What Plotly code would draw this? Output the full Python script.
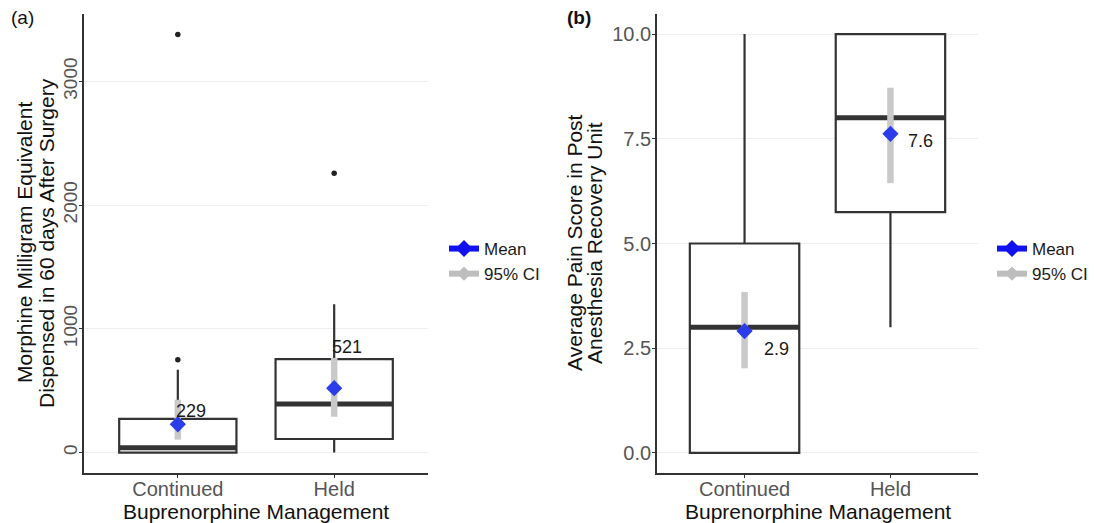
import plotly.graph_objects as go

# ---------------- data ----------------
categories = ["Continued", "Held"]
cat_pos = [1, 2]

# Panel (a): Morphine milligram equivalent
mme_q1 = [0, 110]
mme_median = [40, 393]
mme_q3 = [272, 755]
mme_lower = [0, 0]
mme_upper = [669, 1199]
mme_outliers = [[750, 3380], [2258]]
mme_mean = [229, 521]
mme_mean_labels = ["229", "521"]
mme_ci_low = [105, 290]
mme_ci_high = [427, 765]
mme_ticks = [0, 1000, 2000, 3000]

# Panel (b): Average pain score in PACU
pain_q1 = [0, 5.75]
pain_median = [3.0, 8.0]
pain_q3 = [5.0, 10.0]
pain_lower = [0, 3.0]
pain_upper = [10.0, 10.0]
pain_mean = [2.91, 7.62]
pain_mean_labels = ["2.9", "7.6"]
pain_ci_low = [2.02, 6.44]
pain_ci_high = [3.84, 8.72]
pain_ticks = [0, 2.5, 5.0, 7.5, 10.0]
pain_ticktext = ["0.0", "2.5", "5.0", "7.5", "10.0"]

# ---------------- style ----------------
FONT = "Liberation Sans, Arial, Helvetica, sans-serif"
BOX_LINE = "#333333"
CI_COLOR = "#c9c9c9"
MEAN_COLOR = "#2b3de8"
BOX_W = 0.75
# page offset (body margin) and figure size
OX, OY = 8, 8
W, H = 1087, 515


def px(x):
    return (x - OX) / W


def py(y):
    return 1 - (y - OY) / H


# label offsets (pixels) relative to mean point
mme_label_shift = [(-4, 13), (-4, 41)]
pain_label_shift = [(17, -18), (16, -7)]

fig = go.Figure()


def add_panel(xa, ya, q1, med, q3, lo, hi, outliers, mean, ci_lo, ci_hi,
              labels, shifts, legend_name):
    for i, p in enumerate(cat_pos):
        fig.add_trace(go.Box(
            x=[p], q1=[q1[i]], median=[med[i]], q3=[q3[i]],
            lowerfence=[lo[i]], upperfence=[hi[i]],
            width=BOX_W, whiskerwidth=0, fillcolor="white",
            line=dict(color=BOX_LINE, width=2.2), boxpoints=False,
            xaxis=xa, yaxis=ya, showlegend=False, hoverinfo="skip"))
        # thick median line
        fig.add_trace(go.Scatter(
            x=[p - BOX_W / 2, p + BOX_W / 2], y=[med[i], med[i]],
            mode="lines", line=dict(color=BOX_LINE, width=5),
            xaxis=xa, yaxis=ya, showlegend=False, hoverinfo="skip"))
        if outliers is not None and outliers[i]:
            fig.add_trace(go.Scatter(
                x=[p] * len(outliers[i]), y=outliers[i], mode="markers",
                marker=dict(color="#222222", size=5.5),
                xaxis=xa, yaxis=ya, showlegend=False, hoverinfo="skip"))
    # CI bars
    cx, cy = [], []
    for i, p in enumerate(cat_pos):
        cx += [p, p, None]
        cy += [ci_lo[i], ci_hi[i], None]
    fig.add_trace(go.Scatter(
        x=cx, y=cy, mode="lines", line=dict(color=CI_COLOR, width=6.5),
        xaxis=xa, yaxis=ya, showlegend=False, hoverinfo="skip"))
    # means
    fig.add_trace(go.Scatter(
        x=cat_pos, y=mean, mode="markers",
        marker=dict(symbol="diamond", color=MEAN_COLOR, size=12.5),
        xaxis=xa, yaxis=ya, showlegend=False))
    # legend entries
    fig.add_trace(go.Scatter(
        x=[None], y=[None], mode="lines+markers", name="Mean",
        line=dict(color="#1010f0", width=6),
        marker=dict(symbol="diamond", color="#1010f0", size=13),
        xaxis=xa, yaxis=ya, legend=legend_name))
    fig.add_trace(go.Scatter(
        x=[None], y=[None], mode="lines+markers", name="95% CI",
        line=dict(color="#bdbdbd", width=6),
        marker=dict(symbol="diamond", color="#bdbdbd", size=11),
        xaxis=xa, yaxis=ya, legend=legend_name))
    # mean labels
    for i, p in enumerate(cat_pos):
        fig.add_annotation(
            x=p, y=mean[i], xref=xa, yref=ya, text=labels[i],
            showarrow=False, xanchor="left", yanchor="middle",
            xshift=shifts[i][0], yshift=shifts[i][1],
            font=dict(family=FONT, size=18, color="#1a1a1a"))


add_panel("x", "y", mme_q1, mme_median, mme_q3, mme_lower, mme_upper,
          mme_outliers, mme_mean, mme_ci_low, mme_ci_high,
          mme_mean_labels, mme_label_shift, "legend")
add_panel("x2", "y2", pain_q1, pain_median, pain_q3, pain_lower, pain_upper,
          None, pain_mean, pain_ci_low, pain_ci_high,
          pain_mean_labels, pain_label_shift, "legend2")

ydom = [py(473), py(14)]

axis_common = dict(showline=True, linecolor="#333333", linewidth=1.8,
                   ticks="outside", ticklen=3, tickcolor="#333333",
                   tickwidth=1.3, zeroline=False)
tick_col = "#555555"
xtick = dict(tickfont=dict(family=FONT, size=20, color=tick_col),
             ticklabelstandoff=-6)

legend_font = dict(family=FONT, size=17, color="#1a1a1a")
fig.update_layout(
    width=W, height=H, template="none",
    margin=dict(l=0, r=0, t=0, b=0),
    paper_bgcolor="white", plot_bgcolor="white",
    font=dict(family=FONT),
    xaxis=dict(domain=[px(84), px(428)], range=[0.4, 2.6],
               tickvals=cat_pos, ticktext=categories, showgrid=False,
               anchor="y", **axis_common, **xtick),
    yaxis=dict(domain=ydom, range=[-165, 3545], tickvals=mme_ticks,
               tickangle=-90, showgrid=True, gridcolor="#eeeeee",
               gridwidth=1, anchor="x", ticklabelstandoff=-5,
               tickfont=dict(family=FONT, size=19, color=tick_col),
               **axis_common),
    xaxis2=dict(domain=[px(657), px(978)], range=[0.4, 2.6],
                tickvals=cat_pos, ticktext=categories, showgrid=False,
                anchor="y2", **axis_common, **xtick),
    yaxis2=dict(domain=ydom, range=[-0.48, 10.48], tickvals=pain_ticks,
                ticktext=pain_ticktext, showgrid=True, gridcolor="#eeeeee",
                gridwidth=1, anchor="x2", ticklabelstandoff=-3,
                tickfont=dict(family=FONT, size=20, color=tick_col),
                **axis_common),
    legend=dict(x=px(444), y=py(231), xanchor="left", yanchor="top",
                bgcolor="rgba(0,0,0,0)", tracegroupgap=0, font=legend_font),
    legend2=dict(x=px(992), y=py(231), xanchor="left", yanchor="top",
                 bgcolor="rgba(0,0,0,0)", tracegroupgap=0, font=legend_font),
)

title_font = dict(family=FONT, size=21, color="#111111")


def vtext(x, y, text):
    fig.add_annotation(x=px(x), y=py(y), xref="paper", yref="paper",
                       text=text, textangle=-90, showarrow=False,
                       font=title_font, xanchor="center", yanchor="middle")


# y-axis titles (one annotation per line for tight line spacing)
vtext(24, 243, "Morphine Milligram Equivalent")
vtext(46, 243, "Dispensed in 60 days After Surgery")
vtext(574, 243, "Average Pain Score in Post")
vtext(594, 243, "Anesthesia Recovery Unit")

# x-axis titles
for cx in (256, 818):
    fig.add_annotation(x=px(cx), y=py(511), xref="paper", yref="paper",
                       text="Buprenorphine Management", showarrow=False,
                       font=title_font, xanchor="center", yanchor="middle")
# panel labels
fig.add_annotation(x=px(9), y=py(17), xref="paper", yref="paper",
                   text="(a)", showarrow=False, xanchor="left",
                   yanchor="middle", font=dict(family=FONT, size=19, color="#111111"))
fig.add_annotation(x=px(565), y=py(17), xref="paper", yref="paper",
                   text="<b>(b)</b>", showarrow=False, xanchor="left",
                   yanchor="middle", font=dict(family=FONT, size=19, color="#111111"))

fig.write_html("out.html")
